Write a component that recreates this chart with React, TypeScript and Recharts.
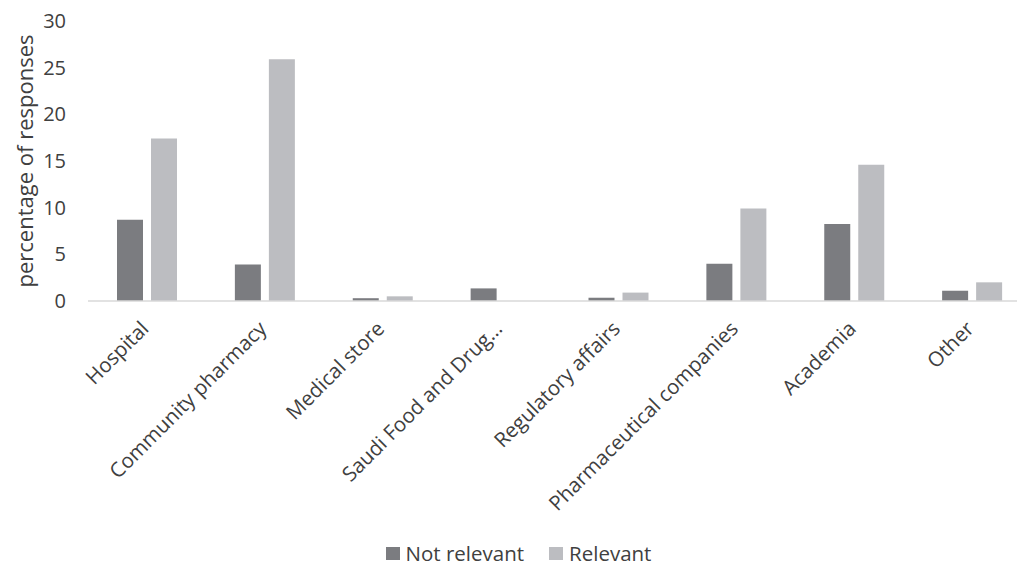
import React from 'react';
import { BarChart, Bar, XAxis, YAxis, Legend, Label } from 'recharts';

// Workplace categories along the horizontal axis
const categories = [
  'Hospital',
  'Community pharmacy',
  'Medical store',
  'Saudi Food and Drug…',
  'Regulatory affairs',
  'Pharmaceutical companies',
  'Academia',
  'Other',
];

// Percentage of responses per category
const notRelevant = [8.7, 3.9, 0.3, 1.35, 0.35, 4.0, 8.25, 1.1];
const relevant = [17.4, 25.9, 0.5, 0, 0.9, 9.9, 14.6, 2.0];

const yTicks = [0, 5, 10, 15, 20, 25, 30];

const seriesNames = { notRelevant: 'Not relevant', relevant: 'Relevant' };
const colors = { notRelevant: '#7b7c80', relevant: '#bcbdc1' };

const data = categories.map((name, i) => ({
  name,
  notRelevant: notRelevant[i],
  relevant: relevant[i],
}));

const FONT = '"Open Sans", sans-serif';
const TEXT = '#404040';

const CategoryTick = (props: any) => {
  const { x, y, payload } = props;
  const ax = x + 3;
  const ay = y + 21;
  return (
    <text
      x={ax}
      y={ay}
      transform={`rotate(-45, ${ax}, ${ay})`}
      textAnchor="end"
      fontFamily={FONT}
      fontSize={20.5}
      fill={TEXT}
    >
      {payload.value}
    </text>
  );
};

const YTitle = () => (
  <text
    x={33}
    y={161}
    transform="rotate(-90, 33, 161)"
    textAnchor="middle"
    fontFamily={FONT}
    fontSize={22}
    fill={TEXT}
  >
    percentage of responses
  </text>
);

const LegendContent = () => (
  <div
    style={{
      display: 'flex',
      justifyContent: 'center',
      alignItems: 'center',
      fontFamily: FONT,
      fontSize: 20.5,
      lineHeight: '28px',
      color: TEXT,
      height: 28,
      paddingLeft: 20,
      boxSizing: 'border-box',
    }}
  >
    {(['notRelevant', 'relevant'] as const).map((k, i) => (
      <span
        key={k}
        style={{ display: 'flex', alignItems: 'center', marginLeft: i ? 25 : 0 }}
      >
        <span
          style={{
            display: 'inline-block',
            width: 14,
            height: 13,
            background: colors[k],
            marginRight: 6,
          }}
        />
        {seriesNames[k]}
      </span>
    ))}
  </div>
);

export default function App() {
  return (
    <div
      style={{
        position: 'absolute',
        left: 0,
        top: 0,
        width: 1017,
        height: 567,
        overflow: 'hidden',
        background: '#ffffff',
      }}
    >
      <BarChart
        width={1031}
        height={567}
        data={data}
        margin={{ top: 21, right: 0, bottom: 4, left: 0 }}
        barSize={26}
        barGap={8}
      >
        <XAxis
          dataKey="name"
          interval={0}
          height={234}
          tickLine={false}
          axisLine={{ stroke: '#d9d9d9', strokeWidth: 1.5 }}
          tick={<CategoryTick />}
        />
        <YAxis
          width={88}
          domain={[0, 30]}
          ticks={yTicks}
          axisLine={false}
          tickLine={false}
          tickMargin={16}
          tick={{ fontFamily: FONT, fontSize: 20, fill: TEXT }}
        >
          <Label content={<YTitle />} />
        </YAxis>
        <Legend
          verticalAlign="bottom"
          content={<LegendContent />}
          wrapperStyle={{ left: 0, width: 1017, bottom: 0 }}
        />
        <Bar
          dataKey="notRelevant"
          name={seriesNames.notRelevant}
          fill={colors.notRelevant}
          isAnimationActive={false}
        />
        <Bar
          dataKey="relevant"
          name={seriesNames.relevant}
          fill={colors.relevant}
          isAnimationActive={false}
        />
      </BarChart>
    </div>
  );
}
